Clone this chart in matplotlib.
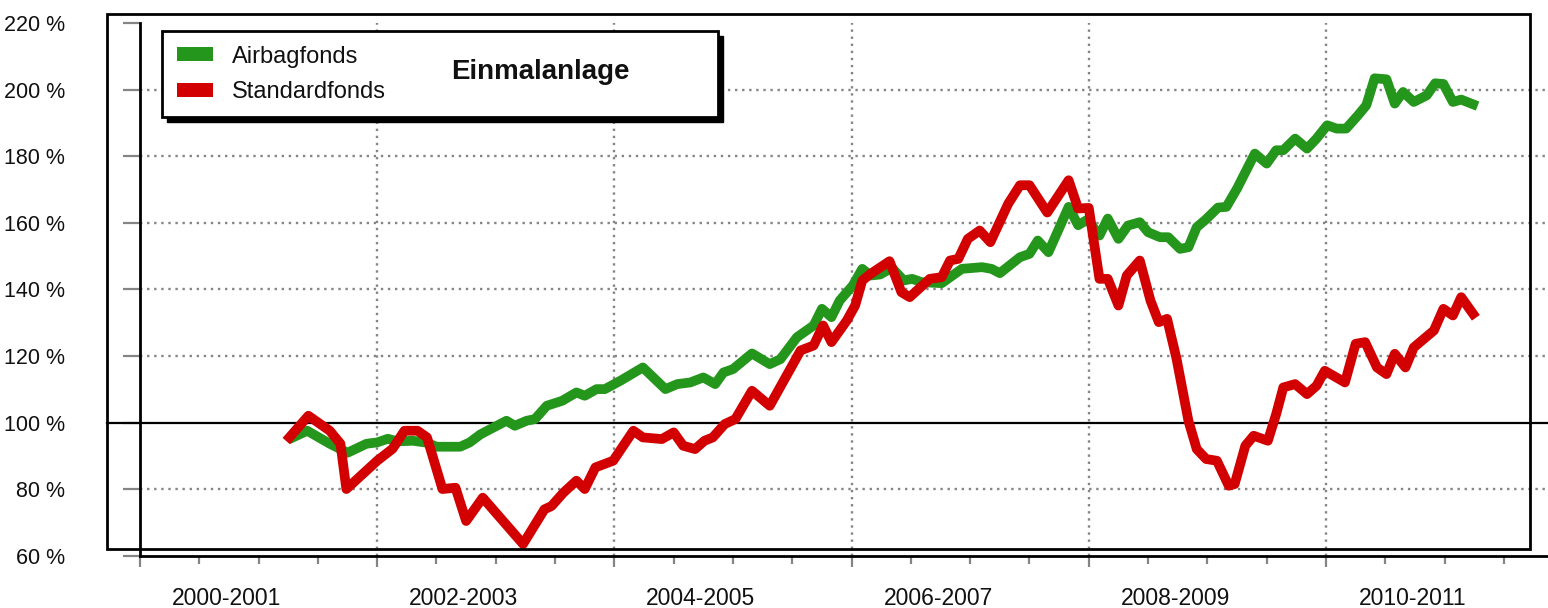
import matplotlib
matplotlib.use("Agg")
import matplotlib.pyplot as plt
from matplotlib.patches import Rectangle
from matplotlib.transforms import blended_transform_factory

# Wertentwicklung in % (Zeit in Dezimaljahren)
airbag_t = [2001.29, 2001.41, 2001.60, 2001.75, 2001.91, 2002.00, 2002.09, 2002.17,
            2002.30, 2002.42, 2002.50, 2002.70, 2002.78, 2002.87, 2002.95, 2003.09,
            2003.16, 2003.26, 2003.33, 2003.43, 2003.56, 2003.68, 2003.75, 2003.85,
            2003.92, 2004.05, 2004.24, 2004.43, 2004.53, 2004.64, 2004.75, 2004.85,
            2004.92, 2005.00, 2005.16, 2005.31, 2005.40, 2005.54, 2005.68, 2005.75,
            2005.83, 2005.90, 2006.01, 2006.09, 2006.16, 2006.24, 2006.34, 2006.44,
            2006.51, 2006.59, 2006.76, 2006.93, 2007.10, 2007.18, 2007.25, 2007.42,
            2007.50, 2007.57, 2007.66, 2007.83, 2007.91, 2007.99, 2008.09, 2008.16,
            2008.25, 2008.33, 2008.43, 2008.50, 2008.60, 2008.67, 2008.77, 2008.84,
            2008.91, 2008.98, 2009.09, 2009.16, 2009.25, 2009.40, 2009.50, 2009.58,
            2009.64, 2009.74, 2009.84, 2009.92, 2010.01, 2010.09, 2010.17, 2010.27,
            2010.34, 2010.41, 2010.51, 2010.58, 2010.65, 2010.74, 2010.85, 2010.92,
            2010.99, 2011.07, 2011.14, 2011.24]
airbag_v = [95.6, 97.6, 93.7, 91.0, 93.7, 94.1, 95.2, 94.4,
            94.6, 94.0, 92.8, 92.8, 94.1, 96.5, 98.0, 100.6,
            99.1, 100.6, 101.1, 105.1, 106.6, 109.1, 108.1, 110.1,
            110.1, 112.6, 116.6, 110.1, 111.6, 112.1, 113.6, 111.6,
            115.1, 116.1, 120.8, 117.6, 119.1, 125.7, 129.2, 134.2,
            131.7, 136.7, 141.2, 146.2, 144.2, 144.5, 146.5, 142.7,
            143.2, 142.2, 141.9, 146.2, 146.7, 146.2, 144.9, 149.7,
            150.7, 154.7, 151.2, 164.8, 159.3, 161.0, 156.2, 161.3,
            155.2, 159.2, 160.2, 157.2, 155.7, 155.7, 152.2, 152.7,
            158.7, 160.8, 164.6, 164.8, 170.3, 180.8, 177.8, 181.8,
            181.8, 185.3, 182.3, 185.3, 189.3, 188.3, 188.3, 192.3,
            195.3, 203.4, 203.1, 195.8, 199.3, 196.3, 198.3, 201.9,
            201.7, 196.3, 197.0, 195.6]

standard_t = [2001.26, 2001.42, 2001.60, 2001.69, 2001.74, 2002.00, 2002.13, 2002.23,
              2002.34, 2002.42, 2002.55, 2002.66, 2002.75, 2002.89, 2003.23, 2003.41,
              2003.47, 2003.57, 2003.68, 2003.75, 2003.84, 2003.99, 2004.16, 2004.24,
              2004.40, 2004.50, 2004.58, 2004.68, 2004.76, 2004.83, 2004.93, 2005.02,
              2005.16, 2005.31, 2005.57, 2005.68, 2005.76, 2005.83, 2005.96, 2006.03,
              2006.09, 2006.16, 2006.32, 2006.42, 2006.49, 2006.66, 2006.76, 2006.83,
              2006.90, 2006.98, 2007.08, 2007.17, 2007.32, 2007.42, 2007.50, 2007.65,
              2007.83, 2007.91, 2008.00, 2008.09, 2008.16, 2008.25, 2008.32, 2008.43,
              2008.52, 2008.59, 2008.66, 2008.74, 2008.84, 2008.91, 2008.99, 2009.08,
              2009.18, 2009.23, 2009.32, 2009.39, 2009.51, 2009.58, 2009.64, 2009.74,
              2009.84, 2009.92, 2009.99, 2010.16, 2010.25, 2010.33, 2010.43, 2010.51,
              2010.58, 2010.67, 2010.74, 2010.84, 2010.91, 2010.99, 2011.07, 2011.14,
              2011.24]
standard_v = [95.6, 102.1, 97.6, 93.7, 80.1, 88.6, 92.2, 97.6,
              97.6, 95.6, 80.1, 80.5, 70.5, 77.5, 63.6, 74.0,
              75.0, 79.0, 82.6, 80.1, 86.6, 88.6, 97.6, 95.6,
              95.1, 97.1, 93.1, 92.1, 94.6, 95.6, 99.6, 101.1,
              109.6, 105.1, 121.7, 123.2, 129.2, 124.2, 130.7, 135.2,
              142.7, 144.7, 148.5, 139.2, 137.7, 143.2, 143.7, 148.7,
              149.2, 155.2, 157.7, 154.2, 165.7, 171.3, 171.3, 163.1,
              172.8, 164.3, 164.5, 143.2, 143.2, 135.2, 144.2, 148.7,
              136.7, 130.2, 131.2, 119.2, 100.6, 92.1, 89.1, 88.6,
              81.1, 81.6, 93.1, 96.1, 94.6, 102.6, 110.6, 111.6,
              108.6, 111.1, 115.6, 112.1, 123.7, 124.2, 116.6, 114.6,
              120.7, 116.6, 122.6, 125.6, 127.7, 134.2, 132.2, 137.7,
              132.7]

y_ticks = [60, 80, 100, 120, 140, 160, 180, 200, 220]
y_grid = [80, 120, 140, 160, 180, 200]
x_major = [2000, 2002, 2004, 2006, 2008, 2010]
x_minor = [2000.5, 2001, 2001.5, 2002.5, 2003, 2003.5, 2004.5, 2005, 2005.5,
           2006.5, 2007, 2007.5, 2008.5, 2009, 2009.5, 2010.5, 2011, 2011.5]
periods = ["2000-2001", "2002-2003", "2004-2005", "2006-2007", "2008-2009", "2010-2011"]

GREEN = "#25961c"
RED = "#d20000"
GRID = "#858585"
TXT = "#111111"

W, H = 1548, 608
plt.rcParams["font.family"] = ["Liberation Sans", "DejaVu Sans"]

fig = plt.figure(figsize=(W / 100, H / 100), dpi=100)
fig.patch.set_facecolor("white")
ax = fig.add_axes([140 / W, 1 - 556 / H, (W - 140) / W, (556 - 23) / H])
ax.set_xlim(2000, 2011.872)
ax.set_ylim(60, 220)

for s in ["top", "right"]:
    ax.spines[s].set_visible(False)
for s in ["left", "bottom"]:
    ax.spines[s].set_linewidth(2.0)
    ax.spines[s].set_color("black")

# Gitter
dots = (0, (1, 2.0))
for v in y_grid:
    ax.axhline(v, color=GRID, lw=1.7, ls=dots, zorder=1)
for x in x_major[1:]:
    ax.axvline(x, color=GRID, lw=1.7, ls=dots, zorder=1)

# 100%-Linie ab dem linken Rahmen
blend = blended_transform_factory(ax.transAxes, ax.transData)
ax.plot([(107 - 140) / (W - 140), 1], [100, 100], color="black", lw=1.6,
        transform=blend, clip_on=False, zorder=2)

ax.plot(airbag_t, airbag_v, color=GREEN, lw=7, solid_joinstyle="round", zorder=3)
ax.plot(standard_t, standard_v, color=RED, lw=7, solid_joinstyle="round", zorder=4)

ax.set_yticks(y_ticks)
ax.set_yticklabels([f"{v} %" for v in y_ticks])
ax.tick_params(axis="y", length=12, width=1.6, color=GRID, pad=42,
               labelsize=15.5, labelcolor=TXT)
ax.set_xticks(x_major)
ax.set_xticklabels([])
ax.set_xticks(x_minor, minor=True)
ax.tick_params(axis="x", which="major", length=8, width=1.6, color=GRID)
ax.tick_params(axis="x", which="minor", length=6, width=1.6, color=GRID)

tb = blended_transform_factory(ax.transData, ax.transAxes)
for x, lab in zip(x_major, periods):
    ax.annotate(lab, xy=(x + 0.73, 0), xycoords=tb, xytext=(0, -30.5),
                textcoords="offset points", ha="center", va="center",
                fontsize=16.5, color=TXT, annotation_clip=False)

# äußerer Rahmen
fig.add_artist(Rectangle((107 / W, 1 - 549 / H), (1530 - 107) / W, (549 - 14) / H,
                         transform=fig.transFigure, fill=False, ec="black", lw=2.0))

# Legende mit Schatten
lx0, ly0, lx1, ly1 = 162, 31, 718, 117
fig.add_artist(Rectangle(((lx0 + 5) / W, 1 - (ly1 + 5) / H), (lx1 - lx0) / W, (ly1 - ly0) / H,
                         transform=fig.transFigure, fc="black", ec="black", lw=1, zorder=5))
fig.add_artist(Rectangle((lx0 / W, 1 - ly1 / H), (lx1 - lx0) / W, (ly1 - ly0) / H,
                         transform=fig.transFigure, fc="white", ec="black", lw=2.0, zorder=6))
for (y0, col, lab) in [(47, GREEN, "Airbagfonds"), (83, RED, "Standardfonds")]:
    fig.add_artist(Rectangle((177 / W, 1 - (y0 + 14) / H), 36 / W, 14 / H,
                             transform=fig.transFigure, fc=col, ec="none", zorder=7))
    fig.text(232 / W, 1 - (y0 + 15.5) / H, lab, ha="left", va="baseline",
             fontsize=17, color=TXT, zorder=7)
fig.text(540 / W, 1 - 72 / H, "Einmalanlage", ha="center", va="center",
         fontsize=20, fontweight="bold", color=TXT, zorder=7)

fig.savefig("out.png", dpi=100, facecolor="white")
